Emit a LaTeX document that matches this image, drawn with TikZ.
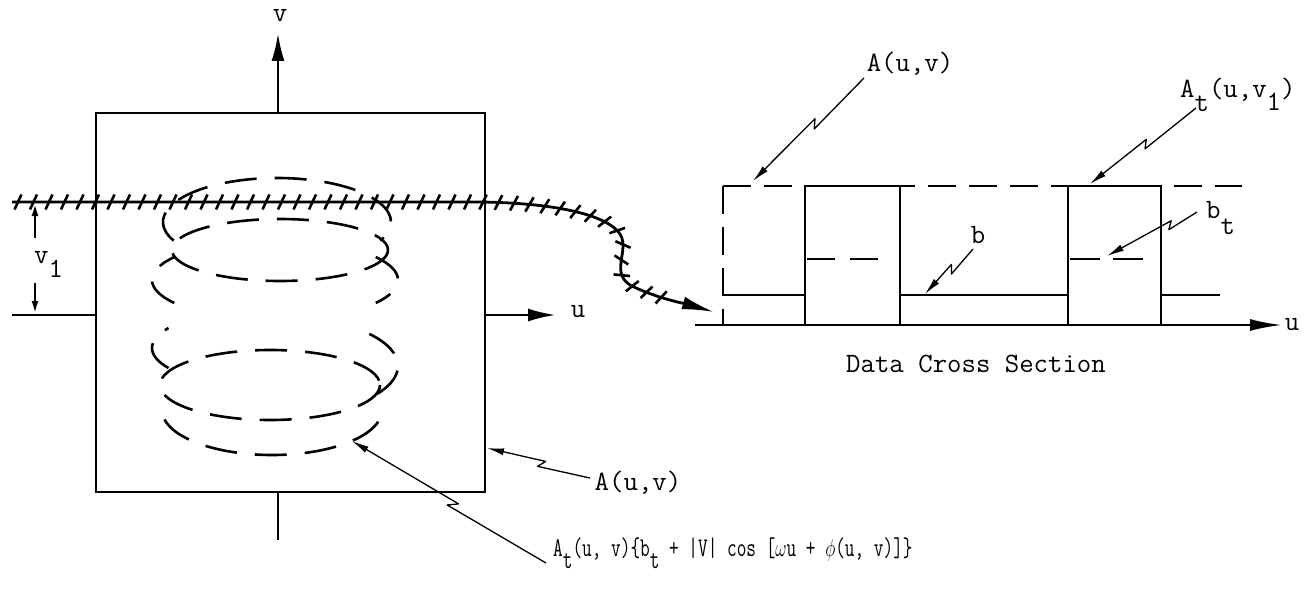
\documentclass[tikz,border=0pt]{standalone}
\usepackage{graphicx}
\usetikzlibrary{arrows.meta,calc,decorations.markings}
\tikzset{
  lbl/.style={font=\fontsize{28}{30}\selectfont\ttfamily, inner sep=0pt},
  flbl/.style={font=\fontsize{27}{29}\selectfont\ttfamily, inner sep=0pt},
  heavy/.style={line width=2.8pt},
  dashring/.style={line width=2.6pt, dash pattern=on 32pt off 18pt},
  leaderline/.style={line width=1.3pt, line join=round, -{Latex[length=17pt,width=7pt]}},
  bigarrow/.style={-{Latex[length=28pt,width=13pt]}},
}
\newcommand{\zapleader}[4]{\draw[leaderline] (#1) -- ($(#1)!#3!(#2)!3.5pt!90:(#2)$) -- ($(#1)!#4!(#2)!3.5pt!-90:(#2)$) -- (#2);}
\begin{document}
\begin{tikzpicture}[x=1pt,y=-1pt]
\useasboundingbox (0,0) rectangle (1306,607);
% ---------- left panel ----------
\node (box) [draw, heavy, minimum width=389pt, minimum height=379pt, inner sep=0pt, outer sep=0pt] at (290.5,302.5) {};
\coordinate (vbot) at (278,113);
\coordinate (vtip) at (278,33);
\draw[heavy, bigarrow] (vbot) -- (vtip);
\node[lbl, anchor=base] (vlab) at (280,22) {v};
\coordinate (lfree) at (12,315);
\coordinate (lbox) at (96,315);
\draw[heavy] (lfree) -- (lbox);
\coordinate (rbox) at (485,315);
\coordinate (utip) at (556,315);
\draw[heavy, bigarrow] (rbox) -- (utip);
\node[lbl, anchor=base] (ulab) at (578,317) {u};
\coordinate (bbox) at (278,492);
\coordinate (bfree) at (278,540);
\draw[heavy] (bbox) -- (bfree);
% v1 dimension
\coordinate (d1a) at (35,238); \coordinate (d1b) at (35,204);
\coordinate (d2a) at (35,283); \coordinate (d2b) at (35,313);
\draw[line width=2pt, -{Latex[length=12pt,width=7pt]}] (d1a) -- (d1b);
\draw[line width=2pt, -{Latex[length=12pt,width=7pt]}] (d2a) -- (d2b);
\node[lbl, anchor=base west] (v1lab) at (34,263) {v\raisebox{-0.5em}{1}};
% dashed rings
\draw[dashring] (277,222) ++(155:114 and 44) arc[start angle=155,end angle=385,x radius=114,y radius=44];
\draw[dashring] (280,250) ellipse[x radius=108,y radius=31];
\draw[dashring] (275,280) ++(145:123 and 40) arc[start angle=145,end angle=215,x radius=123,y radius=40];
\draw[dashring] (275,280) ++(-35:123 and 40) arc[start angle=-35,end angle=35,x radius=123,y radius=40];
\draw[dashring] (275,348) ++(150:123 and 40) arc[start angle=150,end angle=210,x radius=123,y radius=40];
\draw[dashring] (275,366) ++(-40:123 and 50) arc[start angle=-40,end angle=40,x radius=123,y radius=50];
\draw[dashring] (270,385) ellipse[x radius=110,y radius=35];
\draw[dashring] (272,410) ++(15:110 and 45) arc[start angle=15,end angle=190,x radius=110,y radius=45];
% hatched cut line
\coordinate (hstart) at (12,202);
\coordinate (hend) at (714,312);
\draw[line width=2.8pt, -{Latex[length=32pt,width=13pt]},
  postaction={decorate, decoration={markings,
    mark=between positions 6pt and -40pt step 15.5pt with {\draw[line width=2.6pt,-] (-3.5pt,-7.5pt) -- (3.5pt,7.5pt);}}}]
  (hstart) -- (480,202) .. controls (560,203) and (608,216) .. (620,234)
  .. controls (630,250) and (610,272) .. (630,285)
  .. controls (655,298) and (690,305) .. (hend);
% ---------- right panel ----------
\coordinate (o) at (695,325);
\coordinate (uend) at (1282,325);
\draw[line width=2.5pt, -{Latex[length=32pt,width=12pt]}] (o) -- (uend);
\node[lbl, anchor=base] (uplot) at (1292,330) {u};
\coordinate (c0) at (723,186);
\coordinate (c0b) at (723,325);
\coordinate (c0r) at (1242,186);
\draw[line width=2.5pt, dash pattern=on 28pt off 13pt] (c0) -- (c0b);
\draw[line width=2.5pt, dash pattern=on 28pt off 13pt] (c0) -- (c0r);
\draw[line width=2.2pt] (723,295) -- (805,295);
\draw[line width=2.8pt] (805,325) -- (805,186) -- (900,186) -- (900,325);
\draw[line width=2.2pt] (900,295) -- (1068,295);
\draw[line width=2.8pt] (1068,325) -- (1068,186) -- (1161,186) -- (1161,325);
\draw[line width=2.2pt] (1161,295) -- (1220,295);
\draw[line width=2.5pt, dash pattern=on 28pt off 15pt] (807,259) -- (880,259);
\draw[line width=2.5pt, dash pattern=on 30pt off 13pt] (1070,259) -- (1150,259);
% labels
\node[lbl, anchor=base] (Atop) at (910,72) {A(u,v)};
\node[lbl, anchor=base west] (Atlab) at (1180,98) {A\raisebox{-0.5em}{t}(u,v\raisebox{-0.45em}{1})};
\node[lbl, anchor=base west] (btlab) at (1206,218) {b\raisebox{-0.6em}{t}};
\node[lbl, anchor=base] (blab) at (978,243) {b};
\node[lbl, anchor=base] (dcs) at (976,372) {Data Cross Section};
\node[lbl, anchor=base] (Abot) at (638,490) {A(u,v)};
\node[flbl, anchor=base west] (formula) at (553,556) {\scalebox{0.695}[1]{A\raisebox{-0.45em}{t}(u, v)\{b\raisebox{-0.45em}{t} + |V| cos [$\omega$u + $\phi$(u, v)]\}}};
% leaders
\coordinate (t1) at (864,78);   \coordinate (h1) at (753,181);
\coordinate (t2) at (973,249);  \coordinate (h2) at (925,294);
\coordinate (t3) at (1196,108); \coordinate (h3) at (1090,184);
\coordinate (t4) at (1197,212); \coordinate (h4) at (1107,256);
\coordinate (t5) at (590,478);  \coordinate (h5) at (487,448);
\coordinate (t6) at (546,563);  \coordinate (h6) at (352,441);
\zapleader{t1}{h1}{0.47}{0.42}
\zapleader{t2}{h2}{0.50}{0.40}
\zapleader{t3}{h3}{0.50}{0.45}
\zapleader{t4}{h4}{0.33}{0.27}
\zapleader{t5}{h5}{0.50}{0.44}
\zapleader{t6}{h6}{0.50}{0.46}
\end{tikzpicture}
\end{document}
